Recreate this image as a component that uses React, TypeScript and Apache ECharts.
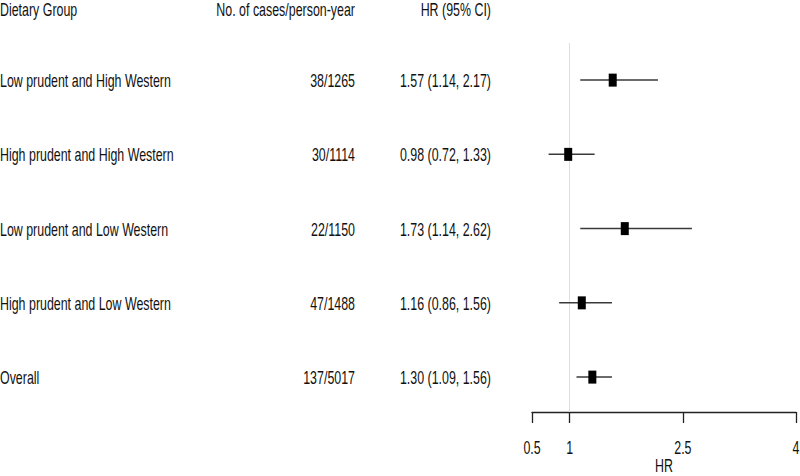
import React, { useEffect, useRef } from "react";
import * as echarts from "echarts";

const groups = [
  "Low prudent and High Western",
  "High prudent and High Western",
  "Low prudent and Low Western",
  "High prudent and Low Western",
  "Overall",
];
const cases = ["38/1265", "30/1114", "22/1150", "47/1488", "137/5017"];
const hr = [1.57, 0.98, 1.73, 1.16, 1.3];
const lower = [1.14, 0.72, 1.14, 0.86, 1.09];
const upper = [2.17, 1.33, 2.62, 1.56, 1.56];
const xTicks = [0.5, 1, 2.5, 4];
const headers = ["Dietary Group", "No. of cases/person-year", "HR (95% CI)"];
const xName = "HR";

const FONT = "18px 'Liberation Sans', Arial, sans-serif";
const SX = 0.69;
const TXT = "#111";
const Y_MIN = -0.5;
const Y_MAX = 4.47;

function txt(text: string, x: number, y: number, align: string, lineHeight = 18) {
  return {
    type: "text",
    x,
    y,
    scaleX: SX,
    scaleY: 1,
    style: {
      text,
      font: FONT,
      fill: TXT,
      lineHeight,
      align,
      textAlign: align,
      verticalAlign: "middle",
      textVerticalAlign: "middle",
    },
  };
}

export default function App() {
  const ref = useRef<HTMLDivElement>(null);
  useEffect(() => {
    if (!ref.current) return;
    const chart = echarts.init(ref.current, null, { renderer: "svg" });
    const hrText = hr.map(
      (v, i) => `${v.toFixed(2)} (${lower[i].toFixed(2)}, ${upper[i].toFixed(2)})`
    );
    chart.setOption({
      animation: false,
      backgroundColor: "#fff",
      grid: { left: 532, right: 4, top: 43, bottom: 64 },
      xAxis: {
        type: "value",
        position: "bottom",
        min: 0.5,
        max: 4,
        axisLine: { show: true, onZero: false, lineStyle: { color: "#222", width: 1.3 } },
        axisTick: {
          show: true,
          customValues: xTicks,
          length: 11,
          lineStyle: { color: "#222", width: 1.3 },
        },
        axisLabel: { show: false },
        splitLine: { show: false },
      },
      yAxis: {
        type: "value",
        inverse: true,
        min: Y_MIN,
        max: Y_MAX,
        show: false,
        splitLine: { show: false },
      },
      graphic: [
        txt(headers[0], 0, 10, "left"),
        txt(headers[1], 355, 10, "right"),
        txt(headers[2], 491, 10, "right"),
        txt(xName, 664, 466, "center", 14),
      ],
      series: [
        {
          type: "line",
          data: [],
          markLine: {
            silent: true,
            symbol: "none",
            label: { show: false },
            lineStyle: { color: "#dedede", width: 1, type: "solid" },
            data: [{ xAxis: 1 }],
          },
          z: 1,
        },
        {
          type: "custom",
          z: 5,
          clip: false,
          data: groups.map((_, i) => [i, hr[i], lower[i], upper[i]]),
          renderItem: (params: any, api: any) => {
            const i = params.dataIndex;
            const row = api.value(0);
            const p = api.coord([api.value(1), row]);
            const l = api.coord([api.value(2), row]);
            const h = api.coord([api.value(3), row]);
            const ty = p[1] + 0.5;
            return {
              type: "group",
              children: [
                txt(groups[i], 0, ty, "left"),
                txt(cases[i], 355, ty, "right"),
                txt(hrText[i], 491, ty, "right"),
                {
                  type: "line",
                  shape: { x1: l[0], y1: p[1], x2: h[0], y2: p[1] },
                  style: { stroke: "#3a3a3a", lineWidth: 1.5 },
                },
                {
                  type: "rect",
                  shape: { x: p[0] - 4, y: p[1] - 6.5, width: 8, height: 13 },
                  style: { fill: "#000" },
                },
              ],
            };
          },
        },
        {
          type: "custom",
          z: 5,
          clip: false,
          data: xTicks.map((v) => [v]),
          renderItem: (params: any, api: any) => {
            const v = api.value(0);
            const p = api.coord([v, Y_MAX]);
            return txt(String(v), p[0], p[1] + 36, "center");
          },
        },
      ],
    });
    return () => chart.dispose();
  }, []);
  return (
    <div
      ref={ref}
      style={{ position: "absolute", left: 0, top: 0, width: 800, height: 476 }}
    />
  );
}
